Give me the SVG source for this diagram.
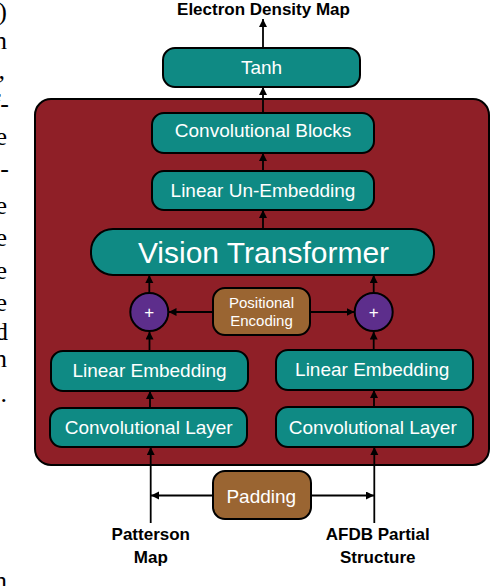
<svg xmlns="http://www.w3.org/2000/svg" width="490" height="586" viewBox="0 0 490 586">
  <style>
    .box { fill: #0f8a84; stroke: #000; stroke-width: 2; }
    .brown { fill: #9a6532; stroke: #000; stroke-width: 2; }
    .plus { fill: #5d2e8c; stroke: #000; stroke-width: 2; }
    .lbl { font-family: "Liberation Sans", Arial, Helvetica, sans-serif; fill: #fff; text-anchor: middle; }
    .io { font-family: "Liberation Sans", Arial, Helvetica, sans-serif; font-weight: bold; font-size: 17px; fill: #000; text-anchor: middle; }
    .edge { stroke: #000; stroke-width: 1.8; fill: none; marker-end: url(#arr); }
    .margin { font-family: "Liberation Serif", "Times New Roman", serif; font-size: 26px; fill: #000; text-anchor: end; }
  </style>
  <defs>
    <marker id="arr" markerUnits="userSpaceOnUse" markerWidth="9" markerHeight="9" refX="8" refY="4" orient="auto">
      <path d="M0,0 L8,4 L0,8 z" fill="#000"/>
    </marker>
  </defs>
  <rect width="490" height="586" fill="#fff"/>

  <g id="page-margin-text" class="margin">
    <text x="7" y="20">)</text>
    <text x="7" y="49">n</text>
    <text x="5" y="79">,</text>
    <text x="9" y="112">f-</text>
    <text x="7" y="145">e</text>
    <text x="9" y="177">-</text>
    <text x="7" y="214">e</text>
    <text x="7" y="246">e</text>
    <text x="7" y="279">e</text>
    <text x="7" y="311">e</text>
    <text x="8" y="340">d</text>
    <text x="7" y="367">n</text>
    <text x="7" y="402">.</text>
    <text x="7" y="589">n</text>
  </g>

  <g id="encoder-block">
    <rect x="35" y="99" width="454" height="366" rx="16" fill="#8f1f27" stroke="#000" stroke-width="2"/>
  </g>

  <g id="connectors">
    <line class="edge" x1="263" y1="48" x2="263" y2="19"/>
    <line class="edge" x1="263" y1="113" x2="263" y2="87"/>
    <line class="edge" x1="263" y1="171" x2="263" y2="153"/>
    <line class="edge" x1="263" y1="229" x2="263" y2="210"/>
    <line class="edge" x1="149.3" y1="293" x2="149.3" y2="275"/>
    <line class="edge" x1="373.7" y1="293" x2="373.7" y2="275"/>
    <line class="edge" x1="213" y1="312" x2="168.5" y2="312"/>
    <line class="edge" x1="310" y1="312" x2="354.5" y2="312"/>
    <line class="edge" x1="149.5" y1="351" x2="149.5" y2="331.5"/>
    <line class="edge" x1="373.7" y1="350" x2="373.7" y2="331.5"/>
    <line class="edge" x1="150" y1="408" x2="150" y2="391"/>
    <line class="edge" x1="374" y1="407" x2="374" y2="390"/>
    <line class="edge" x1="150.7" y1="523" x2="150.7" y2="447"/>
    <line class="edge" x1="374.3" y1="523" x2="374.3" y2="447"/>
    <line class="edge" x1="213" y1="495.5" x2="151" y2="495.5"/>
    <line class="edge" x1="311" y1="495.5" x2="374" y2="495.5"/>
  </g>

  <g id="title">
    <text class="io" x="263.5" y="15">Electron Density Map</text>
  </g>

  <g id="tanh">
    <rect class="box" x="163" y="48" width="197" height="39" rx="12"/>
    <text class="lbl" x="261.5" y="74" font-size="19">Tanh</text>
  </g>

  <g id="conv-blocks">
    <rect class="box" x="152" y="113" width="222" height="40" rx="12"/>
    <text class="lbl" x="263" y="137" font-size="19">Convolutional Blocks</text>
  </g>

  <g id="linear-unembedding">
    <rect class="box" x="152" y="171" width="222" height="39" rx="12"/>
    <text class="lbl" x="263" y="197" font-size="19">Linear Un-Embedding</text>
  </g>

  <g id="vision-transformer">
    <rect class="box" x="91" y="229" width="343" height="46" rx="22"/>
    <text class="lbl" x="263.5" y="262.5" font-size="30">Vision Transformer</text>
  </g>

  <g id="plus-left">
    <circle class="plus" cx="149.3" cy="312" r="19"/>
    <text class="lbl" x="149.3" y="318" font-size="17">+</text>
  </g>

  <g id="plus-right">
    <circle class="plus" cx="373.7" cy="312" r="19"/>
    <text class="lbl" x="373.7" y="318" font-size="17">+</text>
  </g>

  <g id="positional-encoding">
    <rect class="brown" x="213" y="288" width="97" height="47" rx="12"/>
    <text class="lbl" x="261.5" y="308" font-size="15">Positional</text>
    <text class="lbl" x="261.5" y="326" font-size="15">Encoding</text>
  </g>

  <g id="linear-embedding-left">
    <rect class="box" x="51" y="351" width="197" height="40" rx="12"/>
    <text class="lbl" x="149.5" y="377" font-size="19">Linear Embedding</text>
  </g>

  <g id="linear-embedding-right">
    <rect class="box" x="276" y="350" width="197" height="40" rx="12"/>
    <text class="lbl" x="372.2" y="376" font-size="19">Linear Embedding</text>
  </g>

  <g id="conv-layer-left">
    <rect class="box" x="50" y="408" width="197" height="39" rx="12"/>
    <text class="lbl" x="148.7" y="434" font-size="19">Convolutional Layer</text>
  </g>

  <g id="conv-layer-right">
    <rect class="box" x="276" y="407" width="197" height="40" rx="12"/>
    <text class="lbl" x="372.8" y="433.5" font-size="19">Convolutional Layer</text>
  </g>

  <g id="padding">
    <rect class="brown" x="213" y="471" width="98" height="48" rx="12"/>
    <text class="lbl" x="261.3" y="503" font-size="19">Padding</text>
  </g>

  <g id="input-patterson">
    <text class="io" x="150.8" y="540">Patterson</text>
    <text class="io" x="150.8" y="563">Map</text>
  </g>

  <g id="input-afdb">
    <text class="io" x="377.8" y="540">AFDB Partial</text>
    <text class="io" x="377.8" y="563">Structure</text>
  </g>
</svg>
